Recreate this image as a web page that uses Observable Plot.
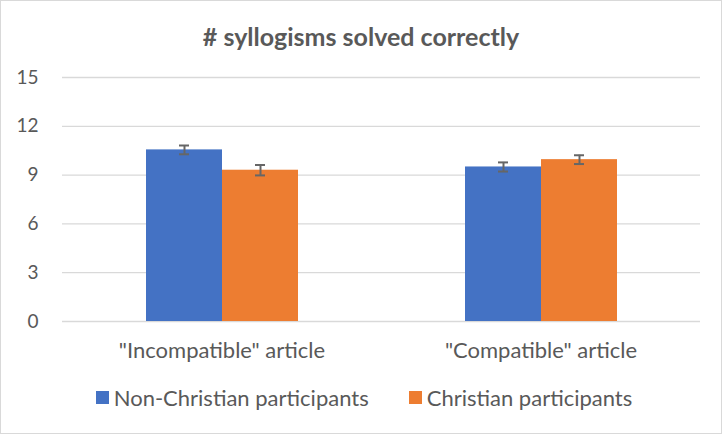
<!DOCTYPE html>
<html>
<head>
<meta charset="utf-8">
<script src="https://cdn.jsdelivr.net/npm/d3@7"></script>
<script src="https://cdn.jsdelivr.net/npm/@observablehq/plot@0.6"></script>
<style>
  body { margin: 0; background: #fff; }
  #chart { position: relative; width: 722px; height: 434px; font-family: Lato, "Open Sans", sans-serif; color: #595959; background: #fff; }
  #frame { position: absolute; left: 0; top: 0; width: 722px; height: 434px; box-sizing: border-box; border: 1px solid #d9d9d9; pointer-events: none; }
  #title { position: absolute; left: 0; top: 19px; width: 722px; height: 34px; line-height: 34px; text-align: center; font-size: 25px; font-weight: bold; color: #595959; }
  #plot { position: absolute; left: 0; top: 60px; }
  #legend { position: absolute; left: 0; top: 384px; width: 722px; height: 26px; display: flex; justify-content: center; align-items: center; gap: 40px; font-size: 22px; color: #595959; padding-left: 6px; box-sizing: border-box; }
  .item { display: flex; align-items: center; gap: 5px; }
  .sw { width: 13px; height: 13px; display: inline-block; }
</style>
</head>
<body>
<div id="chart">
  <div id="title"></div>
  <div id="plot"></div>
  <div id="legend"></div>
  <div id="frame"></div>
</div>
<script>
const titleText = "# syllogisms solved correctly";
const groups = ['"Incompatible" article', '"Compatible" article'];
const series = ["Non-Christian participants", "Christian participants"];
const colors = ["#4472C4", "#ED7D31"];
const nonChristian = [10.55, 9.5];
const nonChristianErr = [0.27, 0.28];
const christian = [9.3, 9.95];
const christianErr = [0.32, 0.27];
const yTicks = [0, 3, 6, 9, 12, 15];

const data = [];
groups.forEach((g, i) => {
  data.push({group: g, series: series[0], value: nonChristian[i], err: nonChristianErr[i]});
  data.push({group: g, series: series[1], value: christian[i], err: christianErr[i]});
});

document.getElementById("title").textContent = titleText;

const chart = Plot.plot({
  width: 722,
  height: 310,
  marginLeft: 61,
  marginRight: 22,
  marginTop: 17,
  marginBottom: 49,
  style: {fontFamily: "Lato, 'Open Sans', sans-serif", fontSize: "19px", color: "#595959", background: "transparent"},
  y: {domain: [0, 15], ticks: yTicks, label: null, tickSize: 0, tickPadding: 24},
  fx: {domain: groups, padding: 0, label: null, axis: null},
  x: {domain: series, axis: null, paddingInner: 0, paddingOuter: 1.08},
  color: {domain: series, range: colors},
  marks: [
    Plot.gridY(yTicks, {stroke: "#d9d9d9", strokeOpacity: 1, strokeWidth: 1.3}),
    Plot.axisFx({anchor: "bottom", tickSize: 0, tickPadding: 21, fontSize: 22, label: null}),
    Plot.barY(data, {fx: "group", x: "series", y: "value", fill: "series"}),
    Plot.ruleX(data, {fx: "group", x: "series", y1: d => d.value - d.err, y2: d => d.value + d.err, stroke: "#666666", strokeWidth: 2}),
    Plot.tickY(data, {fx: "group", x: "series", y: d => d.value - d.err, stroke: "#666666", strokeWidth: 2, inset: 33}),
    Plot.tickY(data, {fx: "group", x: "series", y: d => d.value + d.err, stroke: "#666666", strokeWidth: 2, inset: 33})
  ]
});
document.getElementById("plot").appendChild(chart);

const legend = document.getElementById("legend");
series.forEach((s, i) => {
  const item = document.createElement("div");
  item.className = "item";
  const sw = document.createElement("span");
  sw.className = "sw";
  sw.style.background = colors[i];
  const t = document.createElement("span");
  t.textContent = s;
  item.appendChild(sw);
  item.appendChild(t);
  legend.appendChild(item);
});
</script>
</body>
</html>
